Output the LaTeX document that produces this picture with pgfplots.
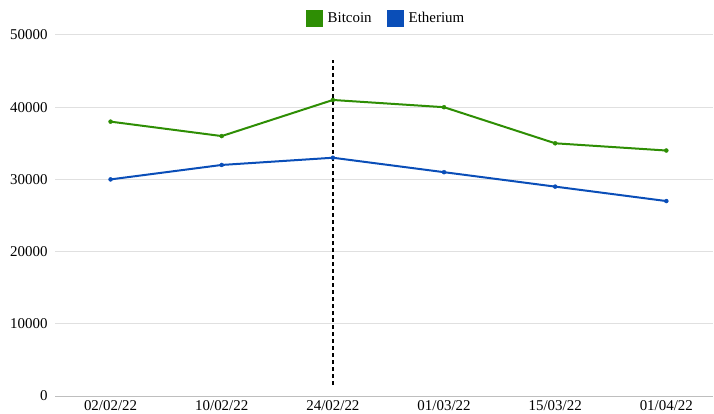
\documentclass[border=0pt]{standalone}
\usepackage{fontspec}
\setmainfont{Liberation Serif}
\usepackage{pgfplots}
\pgfplotsset{compat=1.18}
\definecolor{btc}{RGB}{46,142,4}
\definecolor{eth}{RGB}{10,78,184}
\definecolor{gridc}{RGB}{224,224,224}
\definecolor{axc}{RGB}{190,190,190}
\begin{document}
\begin{tikzpicture}
\useasboundingbox (0,0) rectangle (714bp,414bp);
\begin{axis}[
  at={(55bp,18bp)}, anchor=south west,
  scale only axis, width=658bp, height=361bp,
  xmin=-0.5, xmax=5.42, ymin=0, ymax=50000,
  xtick={0,1,2,3,4,5},
  xticklabels={02/02/22,10/02/22,24/02/22,01/03/22,15/03/22,01/04/22},
  ytick={0,10000,20000,30000,40000,50000},
  scaled y ticks=false,
  /pgf/number format/fixed,
  /pgf/number format/1000 sep={},
  /pgf/number format/assume math mode=true,
  ymajorgrids, major grid style={gridc, line width=1bp},
  axis y line*=left,
  y axis line style={draw=none},
  axis x line*=bottom,
  x axis line style={axc, line width=1bp, -},
  major tick length=0pt,
  tick label style={font=\fontsize{15}{17}\selectfont},
  xticklabel style={yshift=-1bp},
  yticklabel style={xshift=-4bp},
  legend style={at={(0.503,1.047)}, anchor=center, draw=none, fill=none,
    font=\fontsize{15}{17}\selectfont, legend columns=2,
    /tikz/every even column/.append style={column sep=13bp},
    /tikz/every odd column/.append style={column sep=3bp}},
  legend cell align=left,
  legend image code/.code={\fill[#1,draw=none] (0bp,-8.5bp) rectangle (17bp,8.5bp);},
]
\addplot[btc, line width=2bp, mark=*, mark size=2bp, mark options={line width=0.4bp}] coordinates {
  (0,38000) (1,36000) (2,41000) (3,40000) (4,35000) (5,34000)};
\addlegendentry{Bitcoin}
\addplot[eth, line width=2bp, mark=*, mark size=2bp, mark options={line width=0.4bp}] coordinates {
  (0,30000) (1,32000) (2,33000) (3,31000) (4,29000) (5,27000)};
\addlegendentry{Etherium}
\addplot[black, line width=1.8bp, dash pattern=on 4.5bp off 2.5bp, forget plot] coordinates {
  (2,1500) (2,46500)};
\end{axis}
\end{tikzpicture}
\end{document}
